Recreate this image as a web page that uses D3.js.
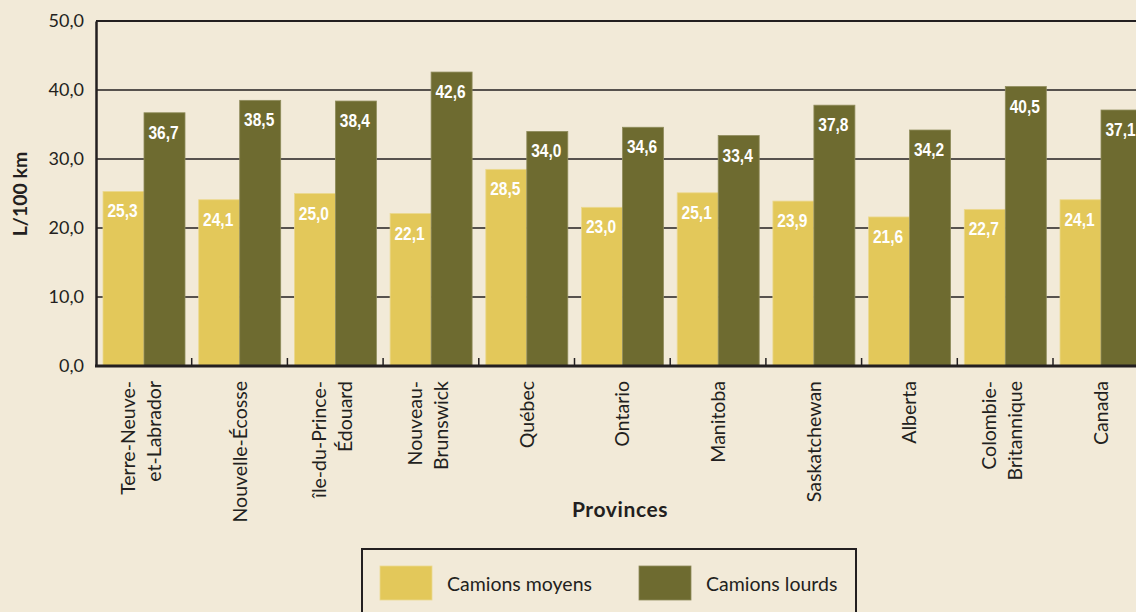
<!DOCTYPE html>
<html lang="fr">
<head>
<meta charset="utf-8">
<script src="https://cdn.jsdelivr.net/npm/d3@7"></script>
<style>
  html, body { margin: 0; padding: 0; background: #f2ead8; overflow: hidden; }
  svg { display: block; }
  .ui { font-family: Lato, "Open Sans", sans-serif; fill: #231f20; }
  .val { font-family: "Liberation Sans", Arial, sans-serif; font-weight: bold; fill: #ffffff; }
</style>
</head>
<body>
<svg id="chart" width="1136" height="612"></svg>
<script>
// Consommation moyenne de carburant (L/100 km) par province
const provinces = [
  ["Terre-Neuve-", "et-Labrador"],
  ["Nouvelle-Écosse"],
  ["île-du-Prince-", "Édouard"],
  ["Nouveau-", "Brunswick"],
  ["Québec"],
  ["Ontario"],
  ["Manitoba"],
  ["Saskatchewan"],
  ["Alberta"],
  ["Colombie-", "Britannique"],
  ["Canada"]
];
const camionsMoyens = [25.3, 24.1, 25.0, 22.1, 28.5, 23.0, 25.1, 23.9, 21.6, 22.7, 24.1];
const camionsLourds = [36.7, 38.5, 38.4, 42.6, 34.0, 34.6, 33.4, 37.8, 34.2, 40.5, 37.1];
const seriesNames = ["Camions moyens", "Camions lourds"];
const yTicks = [0, 10, 20, 30, 40, 50];

const colors = ["#e3c85a", "#6e6b30"];
const strokes = ["#ecd98f", "#8f8c5c"];

const svg = d3.select("#chart");
const plotLeft = 96, plotTop = 21, plotBottom = 366, band = 95.7;
const keys = provinces.map(p => p.join(" "));

const x = d3.scaleBand().domain(keys).range([plotLeft, plotLeft + band * keys.length]).padding(0);
const x1 = d3.scaleBand().domain(seriesNames).range([7, 89]).padding(0);
const y = d3.scaleLinear().domain([0, 50]).range([plotBottom, plotTop]);

const fmt = v => d3.format(".1f")(v).replace(".", ",");

// horizontal grid lines
svg.append("g")
  .selectAll("line")
  .data(yTicks.filter(t => t > 0 && t < 50))
  .join("line")
  .attr("x1", plotLeft).attr("x2", 1136)
  .attr("y1", d => y(d)).attr("y2", d => y(d))
  .attr("stroke", "#231f20").attr("stroke-width", 1.5);

// bars
const rows = keys.map((k, i) => ({ key: k, values: [camionsMoyens[i], camionsLourds[i]] }));
const groups = svg.append("g").selectAll("g")
  .data(rows).join("g")
  .attr("transform", d => `translate(${x(d.key)},0)`);

groups.selectAll("rect")
  .data(d => d.values.map((v, j) => ({ v, j })))
  .join("rect")
  .attr("x", d => x1(seriesNames[d.j]))
  .attr("width", x1.bandwidth())
  .attr("y", d => y(d.v))
  .attr("height", d => y(0) - y(d.v))
  .attr("fill", d => colors[d.j])
  .attr("stroke", d => strokes[d.j])
  .attr("stroke-width", 0.8);

// value labels, narrowed horizontally
groups.selectAll("text")
  .data(d => d.values.map((v, j) => ({ v, j })))
  .join("text")
  .attr("class", "val")
  .attr("transform", d => `translate(${x1(seriesNames[d.j]) + x1.bandwidth() / 2 - 1},${y(d.v) + 26}) scale(0.84,1)`)
  .attr("text-anchor", "middle")
  .attr("font-size", 18.5)
  .text(d => fmt(d.v));

// top border, left axis and baseline
svg.append("line").attr("x1", plotLeft).attr("x2", 1136).attr("y1", plotTop).attr("y2", plotTop)
  .attr("stroke", "#231f20").attr("stroke-width", 2.2);

const yAxis = d3.axisLeft(y).tickValues(yTicks).tickSize(0).tickPadding(12).tickFormat(fmt);
const gy = svg.append("g").attr("transform", `translate(${plotLeft},0)`).call(yAxis);
gy.select(".domain").attr("stroke", "#231f20").attr("stroke-width", 2.5);
gy.selectAll("text").attr("class", "ui").attr("font-size", 18).attr("fill", "#231f20");

const xAxis = d3.axisBottom(x).tickSize(0).tickFormat("");
const gx = svg.append("g").attr("transform", `translate(0,${plotBottom})`).call(xAxis);
gx.select(".domain").remove();
gx.append("line").attr("x1", plotLeft - 1).attr("x2", 1136).attr("y1", 0).attr("y2", 0)
  .attr("stroke", "#231f20").attr("stroke-width", 3);

// separators between provinces
svg.append("g").selectAll("line")
  .data(keys.slice(1))
  .join("line")
  .attr("x1", d => x(d)).attr("x2", d => x(d))
  .attr("y1", plotBottom).attr("y2", plotBottom - 8)
  .attr("stroke", "#231f20").attr("stroke-width", 1.5);

// rotated province names
const labels = svg.append("g").selectAll("text")
  .data(provinces.map((lines, i) => ({ lines, key: keys[i] })))
  .join("text")
  .attr("class", "ui")
  .attr("font-size", 19.5)
  .attr("text-anchor", "end")
  .attr("transform", d => `translate(${x(d.key) + band / 2},381) rotate(-90)`);

labels.selectAll("tspan")
  .data(d => d.lines.map((t, k) => ({ t, k, n: d.lines.length })))
  .join("tspan")
  .attr("x", 0)
  .attr("y", d => d.n === 1 ? 7 : (d.k === 0 ? -9 : 17))
  .text(d => d.t);

// axis titles
svg.append("text").attr("class", "ui")
  .attr("font-size", 19.5).attr("font-weight", "bold")
  .attr("text-anchor", "middle")
  .attr("transform", `translate(27,194) rotate(-90)`)
  .text("L/100 km");

svg.append("text").attr("class", "ui")
  .attr("font-size", 21).attr("font-weight", "bold")
  .attr("letter-spacing", 0.6)
  .attr("text-anchor", "middle")
  .attr("x", 620).attr("y", 517)
  .text("Provinces");

// legend
const legend = svg.append("g");
legend.append("rect")
  .attr("x", 362).attr("y", 549).attr("width", 494).attr("height", 80)
  .attr("fill", "none").attr("stroke", "#231f20").attr("stroke-width", 2);

const legendX = [380, 639];
seriesNames.forEach((name, i) => {
  legend.append("rect")
    .attr("x", legendX[i]).attr("y", 566).attr("width", 52).attr("height", 34)
    .attr("fill", colors[i]).attr("stroke", strokes[i]).attr("stroke-width", 0.8);
  legend.append("text").attr("class", "ui")
    .attr("font-size", 19.5)
    .attr("x", legendX[i] + 67).attr("y", 591)
    .text(name);
});
</script>
</body>
</html>
